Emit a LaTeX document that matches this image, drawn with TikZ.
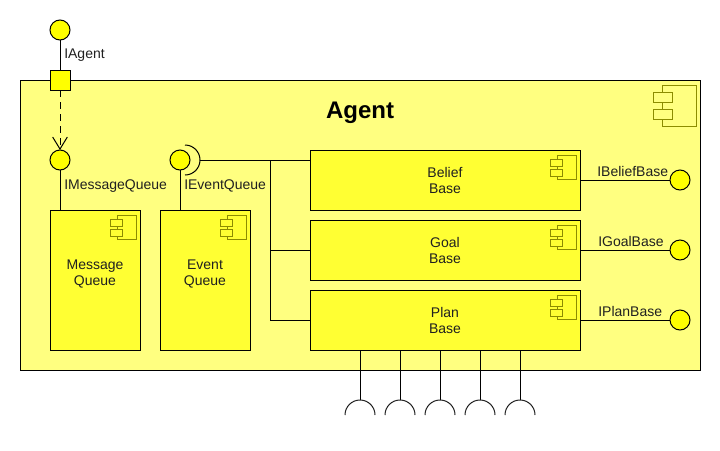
\documentclass[tikz,border=0pt]{standalone}
\usepackage{fontspec}
\setmainfont{Liberation Sans}
\usepackage{xcolor}
\usepackage{tikz}
\usetikzlibrary{arrows.meta}
\definecolor{outerYellow}{HTML}{FFFF80}
\definecolor{partYellow}{HTML}{FFFF33}
\definecolor{ballYellow}{HTML}{FFFF00}
\definecolor{iconOlive}{HTML}{8C8C00}
\definecolor{textGrey}{HTML}{202020}
\tikzset{
  part/.style={draw,line width=0.75pt,fill=partYellow,inner sep=0pt,outer sep=0pt,align=center,text=textGrey,font=\fontsize{10.5}{12}\selectfont},
  ball/.style={circle,draw,line width=0.75pt,fill=ballYellow,minimum size=15pt,inner sep=0pt,outer sep=0pt},
  port/.style={draw,line width=0.75pt,fill=ballYellow,minimum size=15pt,inner sep=0pt,outer sep=0pt},
  iface/.style={text=textGrey,inner sep=0pt,font=\fontsize{10.5}{12}\selectfont},
  wire/.style={line width=0.75pt},
  icon/.style={iconOlive,line width=0.75pt}
}
% small component symbol in the top right corner of a part
\newcommand{\compicon}[1]{%
  \begin{scope}[shift={(#1.north east)}]
    \draw[icon] (-23,5) rectangle (-4,29);
    \draw[icon,fill=partYellow] (-30,9.5) rectangle (-17.5,16);
    \draw[icon,fill=partYellow] (-30,19.5) rectangle (-17.5,26);
  \end{scope}}
\begin{document}
\begin{tikzpicture}[x=0.75pt,y=-0.75pt,>={Straight Barb[length=9pt,width=11pt]}]
    \useasboundingbox (0,0) rectangle (720,450);
    \node[draw,line width=0.75pt,fill=outerYellow,minimum width=510pt,minimum height=217.5pt,inner sep=0pt,outer sep=0pt] (agent) at (360,225) {};
    \node[font=\fontsize{18}{20}\bfseries\selectfont,inner sep=0pt] (agenttitle) at (360,113) {Agent};
    % big component symbol
    \draw[icon] (662,85) rectangle (696,126);
    \draw[icon,fill=outerYellow] (653.3,92.5) rectangle (672.7,102.5);
    \draw[icon,fill=outerYellow] (653.3,109.5) rectangle (672.7,119.5);
    % parts
    \node[part,minimum width=67.5pt,minimum height=105pt] (msgqueue) at (95,280) {};
    \node[part,minimum width=67.5pt,minimum height=105pt] (evtqueue) at (205,280) {};
    \node[part,draw=none,fill=none] (msgtext) at (95,274) {Message\\Queue};
    \node[part,draw=none,fill=none] (evttext) at (205,274) {Event\\Queue};
    \node[part,minimum width=202.5pt,minimum height=45pt] (beliefbase) at (445,180) {Belief\\Base};
    \node[part,minimum width=202.5pt,minimum height=45pt] (goalbase) at (445,250) {Goal\\Base};
    \node[part,minimum width=202.5pt,minimum height=45pt] (planbase) at (445,320) {Plan\\Base};
    \compicon{msgqueue}
    \compicon{evtqueue}
    \compicon{beliefbase}
    \compicon{goalbase}
    \compicon{planbase}
    % provided interfaces
    \node[ball] (iagent) at (60,30) {};
    \node[port] (agentport) at (60,80) {};
    \node[ball] (imsgqueue) at (60,160) {};
    \node[ball] (ievtqueue) at (180,160) {};
    \node[ball] (ibelief) at (680,180) {};
    \node[ball] (igoal) at (680,250) {};
    \node[ball] (iplan) at (680,320) {};
    \draw[wire] (iagent)--(agentport);
    \draw[wire,dash pattern=on 5.25pt off 3.75pt,->] (agentport)--(imsgqueue);
    \draw[wire] (imsgqueue)--(imsgqueue|-msgqueue.north);
    \draw[wire] (ievtqueue)--(ievtqueue|-evtqueue.north);
    \draw[wire] (beliefbase.east)--(ibelief);
    \draw[wire] (goalbase.east)--(igoal);
    \draw[wire] (planbase.east)--(iplan);
    % socket of the event queue and its three branches
    \coordinate (evtsocket) at (200,160);
    \coordinate (evtjoin) at (270,160);
    \draw[wire] (185,145) arc[start angle=90,end angle=-90,radius=11.25pt];
    \draw[wire] (evtsocket)--(beliefbase.west|-evtsocket);
    \draw[wire] (evtjoin)|-(goalbase.west);
    \draw[wire] (evtjoin)|-(planbase.west);
    % sockets under the plan base
    \foreach \sx/\sname in {360/sa,400/sb,440/sc,480/sd,520/se} {
      \coordinate (\sname) at (\sx,400);
      \draw[wire] (\sname|-planbase.south)--(\sname);
      \draw[wire,textGrey] (\sx-15,415) arc[start angle=180,end angle=0,radius=11.25pt];
    }
    % labels
    \node[iface,anchor=west] (lagent) at (64,55) {IAgent};
    \node[iface,anchor=west] (lmsg) at (64,186) {IMessageQueue};
    \node[iface,anchor=west] (levt) at (184,186) {IEventQueue};
    \node[iface,anchor=west] (lbelief) at (597,171) {IBeliefBase};
    \node[iface,anchor=west] (lgoal) at (598,241) {IGoalBase};
    \node[iface,anchor=west] (lplan) at (598,311) {IPlanBase};
\end{tikzpicture}
\end{document}
